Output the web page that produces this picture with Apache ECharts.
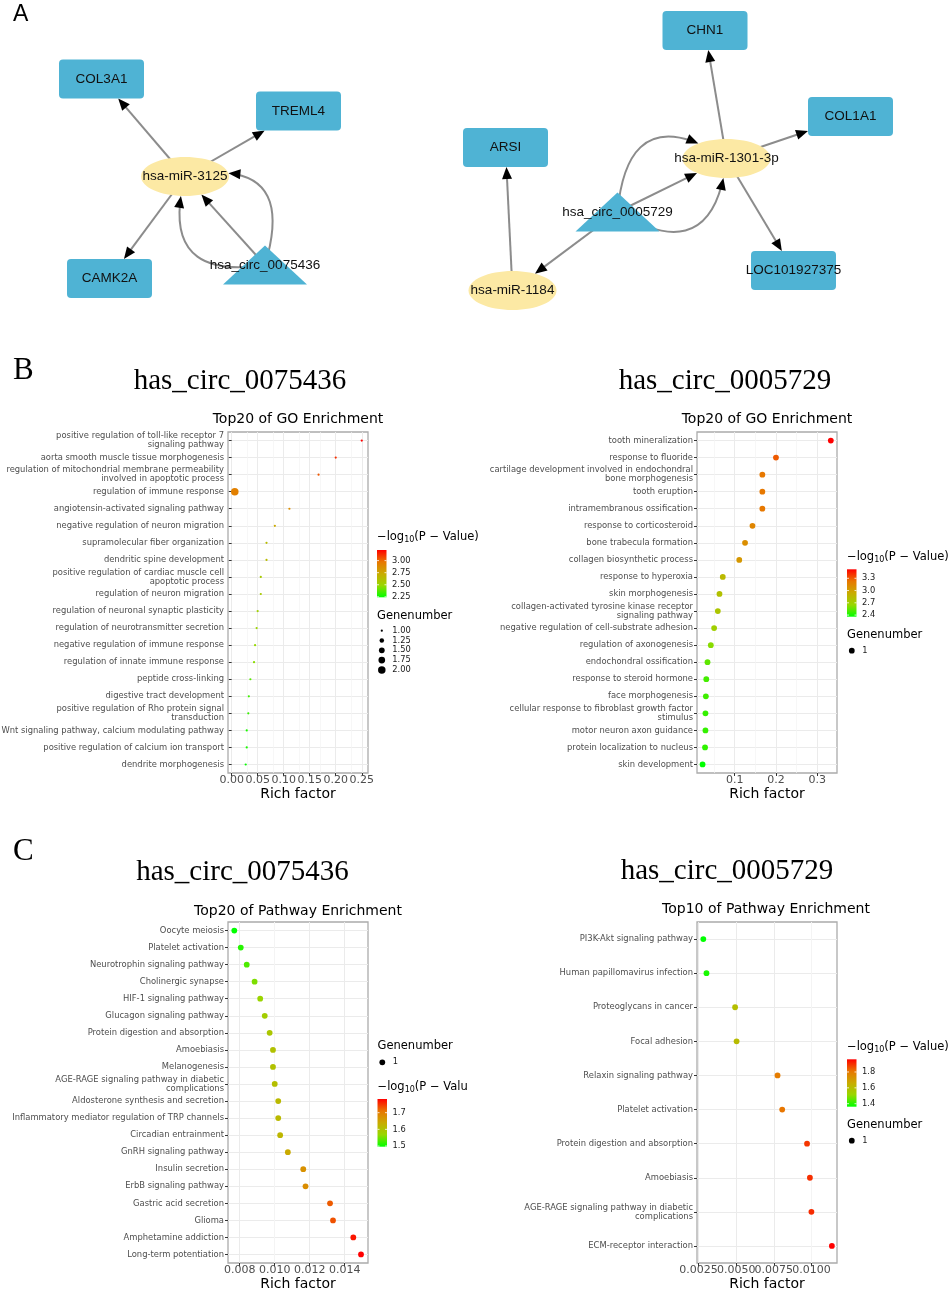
<!DOCTYPE html>
<html>
<head>
<meta charset="utf-8">
<script src="https://cdn.jsdelivr.net/npm/echarts@6.0.0/dist/echarts.min.js"></script>
<style>
html,body{margin:0;padding:0;background:#ffffff;}
#chart{width:948px;height:1292px;}
</style>
</head>
<body>
<div id="chart"></div>
<script>
// ================= DATA =================
// ---- Panel A : circRNA - miRNA - mRNA networks ----
const netNodes = ['COL3A1', 'TREML4', 'CAMK2A', 'hsa-miR-3125', 'hsa_circ_0075436',
  'CHN1', 'COL1A1', 'ARSI', 'LOC101927375', 'hsa-miR-1301-3p', 'hsa-miR-1184', 'hsa_circ_0005729'];
const netTypes = ['mRNA', 'mRNA', 'mRNA', 'miRNA', 'circRNA',
  'mRNA', 'mRNA', 'mRNA', 'mRNA', 'miRNA', 'miRNA', 'circRNA'];
const edgeSource = ['hsa-miR-3125', 'hsa-miR-3125', 'hsa-miR-3125',
  'hsa_circ_0075436', 'hsa_circ_0075436', 'hsa_circ_0075436',
  'hsa-miR-1301-3p', 'hsa-miR-1301-3p', 'hsa-miR-1301-3p',
  'hsa_circ_0005729', 'hsa_circ_0005729', 'hsa_circ_0005729', 'hsa_circ_0005729', 'hsa-miR-1184'];
const edgeTarget = ['COL3A1', 'TREML4', 'CAMK2A',
  'hsa-miR-3125', 'hsa-miR-3125', 'hsa-miR-3125',
  'CHN1', 'COL1A1', 'LOC101927375',
  'hsa-miR-1301-3p', 'hsa-miR-1301-3p', 'hsa-miR-1301-3p', 'hsa-miR-1184', 'ARSI'];

// ---- Panel B left : GO, has_circ_0075436 ----
const goTermsL = ['positive regulation of toll-like receptor 7\nsignaling pathway', 'aorta smooth muscle tissue morphogenesis',
  'regulation of mitochondrial membrane permeability\ninvolved in apoptotic process', 'regulation of immune response',
  'angiotensin-activated signaling pathway', 'negative regulation of neuron migration', 'supramolecular fiber organization',
  'dendritic spine development', 'positive regulation of cardiac muscle cell\napoptotic process', 'regulation of neuron migration',
  'regulation of neuronal synaptic plasticity', 'regulation of neurotransmitter secretion', 'negative regulation of immune response',
  'regulation of innate immune response', 'peptide cross-linking', 'digestive tract development',
  'positive regulation of Rho protein signal\ntransduction', 'Wnt signaling pathway, calcium modulating pathway',
  'positive regulation of calcium ion transport', 'dendrite morphogenesis'];
const goRichL = [0.250, 0.200, 0.167, 0.006, 0.111, 0.083, 0.067, 0.067, 0.056, 0.056, 0.050, 0.048, 0.045, 0.043, 0.036, 0.033, 0.032, 0.029, 0.029, 0.027];
const goLogPL = [3.22, 3.12, 3.04, 2.93, 2.87, 2.74, 2.64, 2.64, 2.56, 2.56, 2.52, 2.50, 2.48, 2.46, 2.38, 2.34, 2.33, 2.28, 2.28, 2.25];
const goGenesL = [1, 1, 1, 2, 1, 1, 1, 1, 1, 1, 1, 1, 1, 1, 1, 1, 1, 1, 1, 1];
const goTicksL = [0, 0.05, 0.10, 0.15, 0.20, 0.25];
const goTickLabelsL = ['0.00', '0.05', '0.10', '0.15', '0.20', '0.25'];
const goCbValsL = [2.25, 2.50, 2.75, 3.00];
const goCbLabelsL = ['2.25', '2.50', '2.75', '3.00'];
const goSizeValsL = [1, 1.25, 1.5, 1.75, 2];
const goSizeLabelsL = ['1.00', '1.25', '1.50', '1.75', '2.00'];

// ---- Panel B right : GO, has_circ_0005729 ----
const goTermsR = ['tooth mineralization', 'response to fluoride',
  'cartilage development involved in endochondral\nbone morphogenesis', 'tooth eruption', 'intramembranous ossification',
  'response to corticosteroid', 'bone trabecula formation', 'collagen biosynthetic process', 'response to hyperoxia',
  'skin morphogenesis', 'collagen-activated tyrosine kinase receptor\nsignaling pathway',
  'negative regulation of cell-substrate adhesion', 'regulation of axonogenesis', 'endochondral ossification',
  'response to steroid hormone', 'face morphogenesis', 'cellular response to fibroblast growth factor\nstimulus',
  'motor neuron axon guidance', 'protein localization to nucleus', 'skin development'];
const goRichR = [0.333, 0.200, 0.167, 0.167, 0.167, 0.143, 0.125, 0.111, 0.071, 0.063, 0.059, 0.050, 0.042, 0.034, 0.031, 0.030, 0.029, 0.029, 0.028, 0.022];
const goLogPR = [3.52, 3.30, 3.22, 3.22, 3.22, 3.15, 3.10, 3.05, 2.85, 2.80, 2.77, 2.70, 2.62, 2.54, 2.49, 2.48, 2.46, 2.46, 2.45, 2.36];
const goGenesR = [1, 1, 1, 1, 1, 1, 1, 1, 1, 1, 1, 1, 1, 1, 1, 1, 1, 1, 1, 1];
const goTicksR = [0.1, 0.2, 0.3];
const goTickLabelsR = ['0.1', '0.2', '0.3'];
const goCbValsR = [2.4, 2.7, 3.0, 3.3];
const goCbLabelsR = ['2.4', '2.7', '3.0', '3.3'];
const goSizeValsR = [1];
const goSizeLabelsR = ['1'];

// ---- Panel C left : KEGG, has_circ_0075436 ----
const kgTermsL = ['Oocyte meiosis', 'Platelet activation', 'Neurotrophin signaling pathway', 'Cholinergic synapse',
  'HIF-1 signaling pathway', 'Glucagon signaling pathway', 'Protein digestion and absorption', 'Amoebiasis', 'Melanogenesis',
  'AGE-RAGE signaling pathway in diabetic\ncomplications', 'Aldosterone synthesis and secretion',
  'Inflammatory mediator regulation of TRP channels', 'Circadian entrainment', 'GnRH signaling pathway', 'Insulin secretion',
  'ErbB signaling pathway', 'Gastric acid secretion', 'Glioma', 'Amphetamine addiction', 'Long-term potentiation'];
const kgRichL = [0.00769, 0.00806, 0.00840, 0.00885, 0.00917, 0.00943, 0.00971, 0.00990, 0.00990, 0.01000, 0.01020, 0.01020, 0.01031, 0.01075, 0.01163, 0.01176, 0.01316, 0.01333, 0.01449, 0.01493];
const kgLogPL = [1.494, 1.514, 1.532, 1.555, 1.570, 1.583, 1.595, 1.604, 1.604, 1.608, 1.617, 1.617, 1.621, 1.640, 1.674, 1.679, 1.727, 1.733, 1.769, 1.782];
const kgGenesL = [1, 1, 1, 1, 1, 1, 1, 1, 1, 1, 1, 1, 1, 1, 1, 1, 1, 1, 1, 1];
const kgTicksL = [0.008, 0.010, 0.012, 0.014];
const kgTickLabelsL = ['0.008', '0.010', '0.012', '0.014'];
const kgCbValsL = [1.5, 1.6, 1.7];
const kgCbLabelsL = ['1.5', '1.6', '1.7'];
const kgSizeValsL = [1];
const kgSizeLabelsL = ['1'];

// ---- Panel C right : KEGG, has_circ_0005729 ----
const kgTermsR = ['PI3K-Akt signaling pathway', 'Human papillomavirus infection', 'Proteoglycans in cancer', 'Focal adhesion',
  'Relaxin signaling pathway', 'Platelet activation', 'Protein digestion and absorption', 'Amoebiasis',
  'AGE-RAGE signaling pathway in diabetic\ncomplications', 'ECM-receptor interaction'];
const kgRichR = [0.00282, 0.00303, 0.00493, 0.00503, 0.00775, 0.00806, 0.00971, 0.00990, 0.01000, 0.01136];
const kgLogPR = [1.362, 1.386, 1.598, 1.607, 1.794, 1.811, 1.892, 1.901, 1.905, 1.960];
const kgGenesR = [1, 1, 1, 1, 1, 1, 1, 1, 1, 1];
const kgTicksR = [0.0025, 0.0050, 0.0075, 0.0100];
const kgTickLabelsR = ['0.0025', '0.0050', '0.0075', '0.0100'];
const kgCbValsR = [1.4, 1.6, 1.8];
const kgCbLabelsR = ['1.4', '1.6', '1.8'];
const kgSizeValsR = [1];
const kgSizeLabelsR = ['1'];

const panelLetters = ['A', 'B', 'C'];
const circNames = ['has_circ_0075436', 'has_circ_0005729'];
const plotTitles = ['Top20 of GO Enrichment', 'Top20 of GO Enrichment', 'Top20 of Pathway Enrichment', 'Top10 of Pathway Enrichment'];

// ================= LAYOUT / STYLE =================
const FONT_GG = 'DejaVu Sans';
const FONT_NET = 'Liberation Sans';
const FONT_SERIF = 'Liberation Serif';

const netLayout = {
  'COL3A1': [101.5, 79], 'TREML4': [298.5, 111], 'CAMK2A': [109.5, 278.5],
  'hsa-miR-3125': [185, 176.5], 'hsa_circ_0075436': [265, 265],
  'CHN1': [705, 30.5], 'COL1A1': [850.5, 116.5], 'ARSI': [505.5, 147.5],
  'LOC101927375': [793.5, 270.5], 'hsa-miR-1301-3p': [726.5, 158.5],
  'hsa-miR-1184': [512.5, 290.5], 'hsa_circ_0005729': [617.5, 212]
};
const edgeCurve = [0, 0, 0, 0, -0.76, 0.83, 0, 0, 0, 0, -0.82, 0.78, 0, 0];
const ROUND_RECT = 'path://M4,0 L81,0 Q85,0 85,4 L85,35 Q85,39 81,39 L4,39 Q0,39 0,35 L0,4 Q0,0 4,0 Z';
const ELLIPSE = 'path://M0,50 C0,22.4 22.4,0 50,0 C77.6,0 100,22.4 100,50 C100,77.6 77.6,100 50,100 C22.4,100 0,77.6 0,50 Z';
const netStyle = {
  mRNA: { symbol: ROUND_RECT, size: [85, 39], color: '#4FB3D4' },
  miRNA: { symbol: ELLIPSE, size: [88, 39], color: '#FCE9A4' },
  circRNA: { symbol: 'triangle', size: [84, 39], color: '#4FB3D4' }
};

const GRAD = ['#00FF00', '#98D700', '#C9AB00', '#E87600', '#FF0000'];

const plots = [
  { cats: goTermsL, rich: goRichL, logp: goLogPL, genes: goGenesL, ticks: goTicksL, tickLabels: goTickLabelsL,
    cbVals: goCbValsL, cbLabels: goCbLabelsL, sizeVals: goSizeValsL, sizeLabels: goSizeLabelsL, title: plotTitles[0],
    grid: { left: 228, top: 432, width: 140, height: 341 }, xRange: [-0.007, 0.262], pRange: [2.24, 3.22], sizeDomain: [1, 2],
    titleX: 298, titleY: 419, legX: 377, colorTitleY: 537, barTop: 550, barH: 47.3, sizeTitleY: 616, sizeY0: 630.7, sizeStep: 9.8, clipW: null },
  { cats: goTermsR, rich: goRichR, logp: goLogPR, genes: goGenesR, ticks: goTicksR, tickLabels: goTickLabelsR,
    cbVals: goCbValsR, cbLabels: goCbLabelsR, sizeVals: goSizeValsR, sizeLabels: goSizeLabelsR, title: plotTitles[1],
    grid: { left: 697, top: 432, width: 140, height: 341 }, xRange: [0.0085, 0.348], pRange: [2.36, 3.52], sizeDomain: [1, 1],
    titleX: 767, titleY: 419, legX: 847, colorTitleY: 556.7, barTop: 569.3, barH: 47.4, sizeTitleY: 635, sizeY0: 650.7, sizeStep: 9.8, clipW: null },
  { cats: kgTermsL, rich: kgRichL, logp: kgLogPL, genes: kgGenesL, ticks: kgTicksL, tickLabels: kgTickLabelsL,
    cbVals: kgCbValsL, cbLabels: kgCbLabelsL, sizeVals: kgSizeValsL, sizeLabels: kgSizeLabelsL, title: plotTitles[2],
    grid: { left: 228, top: 922, width: 140, height: 341 }, xRange: [0.00733, 0.01533], pRange: [1.496, 1.782], sizeDomain: [1, 1],
    titleX: 298, titleY: 911, legX: 377.5, colorTitleY: 1086.7, barTop: 1099, barH: 47.7, sizeTitleY: 1046, sizeY0: 1062.3, sizeStep: 9.8, clipW: 94 },
  { cats: kgTermsR, rich: kgRichR, logp: kgLogPR, genes: kgGenesR, ticks: kgTicksR, tickLabels: kgTickLabelsR,
    cbVals: kgCbValsR, cbLabels: kgCbLabelsR, sizeVals: kgSizeValsR, sizeLabels: kgSizeLabelsR, title: plotTitles[3],
    grid: { left: 697, top: 922, width: 140, height: 341 }, xRange: [0.0024, 0.0117], pRange: [1.362, 1.960], sizeDomain: [1, 1],
    titleX: 766, titleY: 909.5, legX: 847, colorTitleY: 1046.7, barTop: 1059.3, barH: 47.4, sizeTitleY: 1125, sizeY0: 1140.7, sizeStep: 9.8, clipW: null }
];

// ggplot-like point size (area scale, range 1..6)
function dotSize(g, dom) {
  const t = dom[1] > dom[0] ? (g - dom[0]) / (dom[1] - dom[0]) : 0.5;
  const s = 1 + 5 * Math.sqrt(t);
  return Math.max(2.2, 7.5 * (2.845 * s + 0.945) / 18);
}

// ================= BUILD =================
const chart = echarts.init(document.getElementById('chart'), null, { renderer: 'canvas' });

const grids = [{ left: 0, top: 0, width: 948, height: 330, show: false, outerBoundsMode: 'none' }];
const xAxes = [{ type: 'value', gridIndex: 0, min: 0, max: 948, show: false }];
const yAxes = [{ type: 'value', gridIndex: 0, min: 0, max: 330, inverse: true, show: false }];
const series = [];
const visualMaps = [];
const graphics = [];

// --- network edges (custom) ---
function renderEdge(params, api) {
  const i = params.dataIndex;
  const s = edgeSource[i], t = edgeTarget[i], cv = edgeCurve[i];
  const p0 = api.coord(netLayout[s]);
  const p2 = api.coord(netLayout[t]);
  const st = netStyle[netTypes[netNodes.indexOf(t)]];
  const hw = st.size[0] / 2, hh = st.size[1] / 2;
  const isEll = st.symbol === ELLIPSE;
  const dx = p2[0] - p0[0], dy = p2[1] - p0[1];
  const c = [(p0[0] + p2[0]) / 2 - cv * dy, (p0[1] + p2[1]) / 2 + cv * dx];
  const B = u => [(1 - u) * (1 - u) * p0[0] + 2 * (1 - u) * u * c[0] + u * u * p2[0],
                  (1 - u) * (1 - u) * p0[1] + 2 * (1 - u) * u * c[1] + u * u * p2[1]];
  const inside = q => {
    const ex = q[0] - p2[0], ey = q[1] - p2[1];
    return isEll ? (ex * ex) / (hw * hw) + (ey * ey) / (hh * hh) <= 1 : Math.abs(ex) <= hw && Math.abs(ey) <= hh;
  };
  let lo = 0, hi = 1;
  for (let k = 0; k < 40; k++) { const m = (lo + hi) / 2; if (inside(B(m))) hi = m; else lo = m; }
  const tip = B(lo);
  const d1 = [2 * (1 - lo) * (c[0] - p0[0]) + 2 * lo * (p2[0] - c[0]), 2 * (1 - lo) * (c[1] - p0[1]) + 2 * lo * (p2[1] - c[1])];
  const dl = Math.hypot(d1[0], d1[1]);
  const ux = d1[0] / dl, uy = d1[1] / dl;
  const AL = 12, AW = 5;
  const bx = tip[0] - ux * AL, by = tip[1] - uy * AL;
  const arrow = [[tip[0], tip[1]], [bx - uy * AW, by + ux * AW], [bx + uy * AW, by - ux * AW]];
  const tEnd = Math.max(0, lo - (AL * 0.6) / dl);
  const e = B(tEnd);
  const cc = [p0[0] + tEnd * (c[0] - p0[0]), p0[1] + tEnd * (c[1] - p0[1])];
  const line = cv === 0
    ? { type: 'line', shape: { x1: p0[0], y1: p0[1], x2: e[0], y2: e[1] }, style: { stroke: '#8C8C8C', lineWidth: 2 } }
    : { type: 'bezierCurve', shape: { x1: p0[0], y1: p0[1], x2: e[0], y2: e[1], cpx1: cc[0], cpy1: cc[1] }, style: { stroke: '#8C8C8C', lineWidth: 2, fill: 'none' } };
  return { type: 'group', children: [line, { type: 'polygon', shape: { points: arrow }, style: { fill: '#000000' } }] };
}
series.push({
  type: 'custom', xAxisIndex: 0, yAxisIndex: 0, z: 1, silent: true,
  renderItem: renderEdge,
  data: edgeSource.map((s, i) => [i, 0])
});
series.push({
  type: 'scatter', xAxisIndex: 0, yAxisIndex: 0, z: 5, silent: true, clip: false,
  data: netNodes.map((n, i) => {
    const st = netStyle[netTypes[i]];
    return { name: n, value: netLayout[n], symbol: st.symbol, symbolSize: st.size, itemStyle: { color: st.color, opacity: 1 } };
  }),
  label: { show: true, position: 'inside', formatter: '{b}', color: '#111111', fontSize: 13.5, fontFamily: FONT_NET }
});

// --- enrichment dot plots ---
function txt(x, y, text, size, family, color, align, extra) {
  const el = { type: 'text', x: x, y: y, silent: true, z: 10,
    style: Object.assign({ text: text, fontSize: size, fontFamily: family, fill: color, align: align || 'left', verticalAlign: 'middle' }, extra || {}) };
  graphics.push(el);
}

plots.forEach((p, k) => {
  const gi = k + 1;
  grids.push(Object.assign({ show: true, borderColor: '#ABABAB', borderWidth: 1.3, backgroundColor: '#FFFFFF', outerBoundsMode: 'none', containLabel: false }, p.grid));
  const step = p.ticks.length > 1 ? p.ticks[1] - p.ticks[0] : 0.1;
  const ext = [p.ticks[0] - step].concat(p.ticks, [p.ticks[p.ticks.length - 1] + step]);
  const minors = [];
  for (let j = 0; j < ext.length - 1; j++) {
    const m = (ext[j] + ext[j + 1]) / 2;
    if (m > p.xRange[0] && m < p.xRange[1]) minors.push(m);
  }
  const labelFmt = v => { let b = 0; p.ticks.forEach((t, j) => { if (Math.abs(t - v) < Math.abs(p.ticks[b] - v)) b = j; }); return p.tickLabels[b]; };
  // ticks split over two bottom axes so that touching labels are never auto-hidden
  const evenTicks = p.ticks.filter((t, j) => j % 2 === 0);
  const oddTicks = p.ticks.filter((t, j) => j % 2 === 1);
  const xIdx = xAxes.length;
  [evenTicks, oddTicks].forEach((tv, h) => {
    const ax = {
      type: 'value', gridIndex: gi, min: p.xRange[0], max: p.xRange[1], position: 'bottom', offset: 0,
      axisLine: { show: false },
      splitLine: { show: tv.length > 0, lineStyle: { color: '#EBEBEB', width: 1 } },
      axisTick: { show: tv.length > 0, length: 3, lineStyle: { color: '#333333', width: 1 }, customValues: tv },
      axisLabel: { show: tv.length > 0, customValues: tv, color: '#4D4D4D', fontSize: 11, fontFamily: FONT_GG, margin: 2, formatter: labelFmt }
    };
    if (h === 0) {
      ax.name = 'Rich factor'; ax.nameLocation = 'middle'; ax.nameGap = 13;
      ax.nameTextStyle = { color: '#000000', fontSize: 14, fontFamily: FONT_GG };
    }
    xAxes.push(ax);
  });
  const yIdx = yAxes.length;
  yAxes.push({
    type: 'category', gridIndex: gi, data: p.cats, inverse: true,
    axisLine: { show: false },
    axisTick: { show: true, alignWithLabel: true, interval: 0, length: 3, lineStyle: { color: '#333333', width: 1 } },
    axisLabel: { interval: 0, color: '#4D4D4D', fontSize: 8.4, lineHeight: 9, margin: 4, fontFamily: FONT_GG },
    splitLine: { show: false }
  });
  yAxes.push({
    type: 'value', gridIndex: gi, min: 0, max: p.cats.length, interval: 1, position: 'right',
    axisLine: { show: false }, axisTick: { show: false }, axisLabel: { show: false },
    splitLine: { show: false }, minorTick: { show: false, splitNumber: 2 },
    minorSplitLine: { show: true, lineStyle: { color: '#EBEBEB', width: 1 } }
  });
  const si = series.length;
  series.push({
    type: 'scatter', xAxisIndex: xIdx, yAxisIndex: yIdx, z: 3, silent: true,
    data: p.rich.map((r, i) => [r, i, p.logp[i], p.genes[i]]),
    symbolSize: v => dotSize(v[3], p.sizeDomain),
    itemStyle: { opacity: 1 },
    markLine: {
      silent: true, symbol: 'none', z: 1, animation: false,
      label: { show: false }, emphasis: { disabled: true },
      lineStyle: { color: '#F3F3F3', width: 0.7, type: 'solid' },
      data: minors.map(m => ({ xAxis: m }))
    }
  });
  visualMaps.push({
    type: 'continuous', show: false, seriesIndex: si, dimension: 2,
    min: p.pRange[0], max: p.pRange[1], inRange: { color: GRAD }
  });

  // title
  txt(p.titleX, p.titleY, p.title, 14, FONT_GG, '#000000', 'center');

  // colour legend
  const barW = 9.5;
  const ctExtra = { rich: { a: { fontSize: 11.5, fontFamily: FONT_GG, fill: '#000', lineHeight: 14 }, b: { fontSize: 8, fontFamily: FONT_GG, fill: '#000', lineHeight: 6, verticalAlign: 'bottom' } } };
  if (p.clipW) { ctExtra.width = p.clipW; ctExtra.overflow = 'truncate'; ctExtra.ellipsis = ''; }
  txt(p.legX, p.colorTitleY, '{a|\u2212log}{b|10}{a|(P \u2212 Value)}', 11.5, FONT_GG, '#000000', 'left', ctExtra);
  graphics.push({
    type: 'rect', silent: true, z: 10,
    shape: { x: p.legX, y: p.barTop, width: barW, height: p.barH },
    style: { fill: new echarts.graphic.LinearGradient(0, 1, 0, 0, GRAD.map((c, j) => ({ offset: j / (GRAD.length - 1), color: c }))) }
  });
  p.cbVals.forEach((v, j) => {
    const y = p.barTop + p.barH * (1 - (v - p.pRange[0]) / (p.pRange[1] - p.pRange[0]));
    graphics.push({ type: 'line', silent: true, z: 11, shape: { x1: p.legX, y1: y, x2: p.legX + 2, y2: y }, style: { stroke: '#FFFFFF', lineWidth: 0.8 } });
    graphics.push({ type: 'line', silent: true, z: 11, shape: { x1: p.legX + barW - 2, y1: y, x2: p.legX + barW, y2: y }, style: { stroke: '#FFFFFF', lineWidth: 0.8 } });
    txt(p.legX + barW + 5.5, y, p.cbLabels[j], 8.3, FONT_GG, '#1A1A1A', 'left');
  });

  // size legend
  txt(p.legX, p.sizeTitleY, 'Genenumber', 11.5, FONT_GG, '#000000', 'left');
  p.sizeVals.forEach((v, j) => {
    const y = p.sizeY0 + j * p.sizeStep;
    const d = dotSize(v, p.sizeDomain);
    graphics.push({ type: 'circle', silent: true, z: 10, shape: { cx: p.legX + 4.8, cy: y, r: d / 2 }, style: { fill: '#000000' } });
    txt(p.legX + 15.3, y, p.sizeLabels[j], 8.3, FONT_GG, '#1A1A1A', 'left');
  });
});

// panel letters and headers
txt(13, 15, panelLetters[0], 23, FONT_NET, '#000000', 'left');
txt(13, 371, panelLetters[1], 31, FONT_SERIF, '#000000', 'left');
txt(13, 852, panelLetters[2], 31, FONT_SERIF, '#000000', 'left');
txt(240, 381, circNames[0], 29, FONT_SERIF, '#000000', 'center');
txt(725, 381, circNames[1], 29, FONT_SERIF, '#000000', 'center');
txt(242.5, 872.5, circNames[0], 29, FONT_SERIF, '#000000', 'center');
txt(727, 871.5, circNames[1], 29, FONT_SERIF, '#000000', 'center');

chart.setOption({
  animation: false,
  backgroundColor: '#FFFFFF',
  grid: grids,
  xAxis: xAxes,
  yAxis: yAxes,
  visualMap: visualMaps,
  series: series,
  graphic: { elements: graphics }
});
</script>
</body>
</html>
